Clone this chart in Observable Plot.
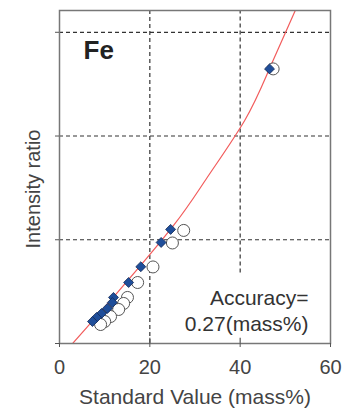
<!DOCTYPE html>
<html>
<head>
<meta charset="utf-8">
<script src="https://cdn.jsdelivr.net/npm/d3@7"></script>
<script src="https://cdn.jsdelivr.net/npm/@observablehq/plot@0.6"></script>
<style>
  html, body { margin: 0; padding: 0; background: #fff; }
  #chart svg { display: block; }
</style>
</head>
<body>
<div id="chart"></div>
<script>
// Axis ticks
const xTicks = [0, 20, 40, 60];
const yTicks = [0, 1, 2, 3];

// Calibration samples after correction (blue diamonds)
const correctedValue = [46.5, 24.6, 22.5, 18.0, 15.3, 11.95, 11.7, 10.6, 9.3, 8.2, 7.3];
const correctedRatio = [2.647, 1.10, 0.974, 0.74, 0.588, 0.444, 0.395, 0.338, 0.289, 0.251, 0.212];

// Same samples before correction (open circles)
const rawValue = [47.3, 27.5, 25.0, 20.7, 17.3, 15.05, 14.2, 13.1, 11.3, 10.0, 9.1];
const rawRatio = [2.647, 1.09, 0.969, 0.738, 0.588, 0.444, 0.386, 0.328, 0.26, 0.212, 0.183];

// Calibration curve
const curveValue = [2.9, 13.0, 25.3, 32.7, 41.0, 46.5, 52.2, 53.6];
const curveRatio = [0.0, 0.50, 1.14, 1.60, 2.15, 2.65, 3.21, 3.35];

const element = "Fe";
const accuracy = 0.27;

const corrected = correctedValue.map((v, i) => ({x: v, y: correctedRatio[i]}));
const raw = rawValue.map((v, i) => ({x: v, y: rawRatio[i]}));
const curve = curveValue.map((v, i) => ({x: v, y: curveRatio[i]}));

const dash = {stroke: "#333", strokeOpacity: 1, strokeWidth: 1.2, strokeDasharray: "4,3"};

const chart = Plot.plot({
  width: 344,
  height: 409,
  marginLeft: 59,
  marginRight: 14,
  marginTop: 10,
  marginBottom: 66,
  x: {domain: [0, 60]},
  y: {domain: [0, 3.21]},
  style: {fontFamily: "'Liberation Sans', Arial, sans-serif", background: "#fff", color: "#444"},
  marks: [
    Plot.gridY(yTicks.slice(1), dash),
    Plot.ruleX([xTicks[1]], dash),
    Plot.ruleX([xTicks[2]], {...dash, y1: 0.68, y2: 3.21}),
    Plot.ruleX(xTicks.slice(1, 3), {y1: 0, y2: 0.05, stroke: "#555", strokeWidth: 1.2}),
    Plot.line(curve, {x: "x", y: "y", stroke: "#f25c5c", strokeWidth: 1.2, curve: "natural", clip: true}),
    Plot.dot(raw, {x: "x", y: "y", r: 6, fill: "#fff", stroke: "#555", strokeWidth: 1}),
    Plot.dot(corrected, {x: "x", y: "y", symbol: "diamond2", r: 4.5, fill: "#1f4e9a", stroke: "#142a55", strokeWidth: 0.8}),
    Plot.frame({stroke: "#777", strokeWidth: 1.5}),
    Plot.axisX(xTicks, {tickSize: 4, tickPadding: 12, fontSize: 20, stroke: "#555", label: null}),
    Plot.axisY(yTicks, {tickSize: 4, tickFormat: () => "", stroke: "#555", label: null}),
    Plot.text([element], {frameAnchor: "top-left", dx: 24, dy: 40, textAnchor: "start", lineAnchor: "middle",
      fontSize: 26, fontWeight: "bold", fill: "#222"}),
    Plot.text([`Accuracy=\n${accuracy.toFixed(2)}(mass%)`], {frameAnchor: "bottom-right", dx: -22, dy: -34,
      textAnchor: "end", lineAnchor: "middle", lineHeight: 1.25, fontSize: 21, fill: "#333"}),
    Plot.text(["Standard Value (mass%)"], {frameAnchor: "bottom", dy: 54, lineAnchor: "middle", fontSize: 21, fill: "#444"}),
    Plot.text(["Intensity ratio"], {frameAnchor: "left", dx: -26, dy: 12, rotate: -90, textAnchor: "middle",
      lineAnchor: "middle", fontSize: 20, fill: "#444"})
  ]
});

document.getElementById("chart").appendChild(chart);
</script>
</body>
</html>
